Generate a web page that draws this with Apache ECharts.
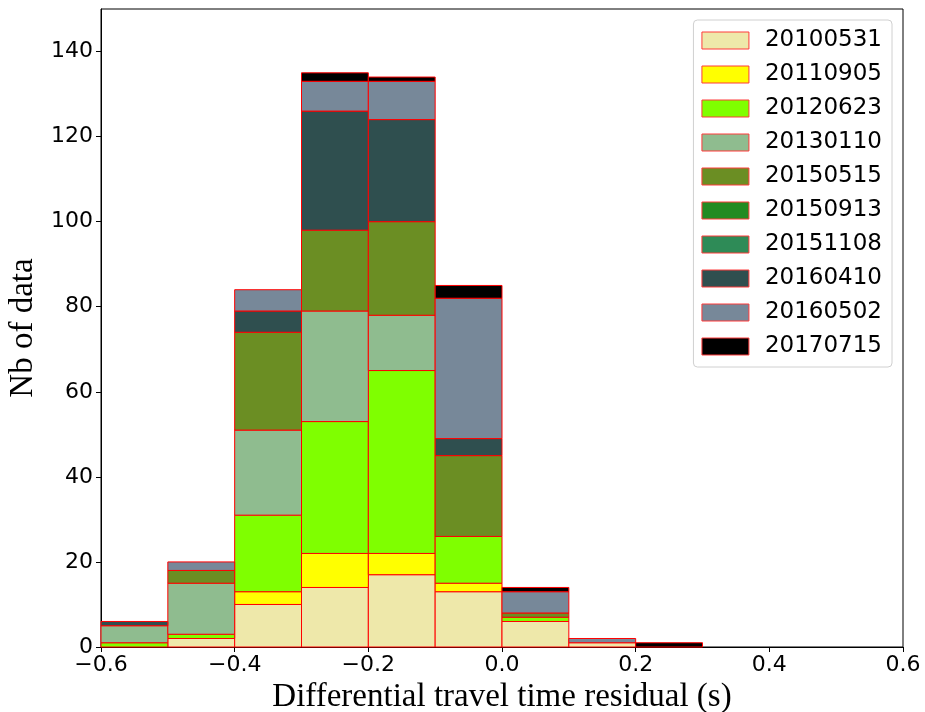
<!DOCTYPE html>
<html>
<head>
<meta charset="utf-8">
<script src="https://cdn.jsdelivr.net/npm/echarts@6/dist/echarts.min.js"></script>
<style>html,body{margin:0;padding:0;background:#fff;}#c{width:925px;height:712px;}</style>
</head>
<body>
<div id="c"></div>
<script>
// Bin edges of the histogram (x, in s)
const binEdges = [-0.6, -0.5, -0.4, -0.3, -0.2, -0.1, 0.0, 0.1, 0.2, 0.3];
// Counts per bin for each event date (stacked)
const s20100531 = [0, 2, 10, 14, 17, 13, 6, 1, 0];
const s20110905 = [0, 0, 3, 8, 5, 2, 0, 0, 0];
const s20120623 = [1, 1, 18, 31, 43, 11, 1, 0, 0];
const s20130110 = [4, 12, 20, 26, 13, 0, 0, 0, 0];
const s20150515 = [0, 3, 23, 19, 22, 19, 1, 0, 0];
const s20150913 = [0, 0, 0, 0, 0, 0, 0, 0, 0];
const s20151108 = [0, 0, 0, 0, 0, 0, 0, 0, 0];
const s20160410 = [1, 0, 5, 28, 24, 4, 0, 0, 0];
const s20160502 = [0, 2, 5, 7, 9, 33, 5, 1, 0];
const s20170715 = [0, 0, 0, 2, 1, 3, 1, 0, 1];

const seriesNames = ['20100531','20110905','20120623','20130110','20150515','20150913','20151108','20160410','20160502','20170715'];
const seriesValues = [s20100531,s20110905,s20120623,s20130110,s20150515,s20150913,s20151108,s20160410,s20160502,s20170715];
const seriesColors = ['#EEE8AA','#FFFF00','#7FFF00','#8FBC8F','#6B8E23','#228B22','#2E8B57','#2F4F4F','#778899','#000000'];

const xTicks = [-0.6, -0.4, -0.2, 0.0, 0.2, 0.4, 0.6];
const yTicks = [0, 20, 40, 60, 80, 100, 120, 140];

// build stacked rectangles
const cum = new Array(binEdges.length - 1).fill(0);
const series = seriesNames.map(function (name, si) {
  const vals = seriesValues[si];
  const data = [];
  for (let b = 0; b < vals.length; b++) {
    const base = cum[b];
    const top = base + vals[b];
    cum[b] = top;
    if (vals[b] > 0) data.push([binEdges[b], binEdges[b + 1], base, top]);
  }
  return {
    name: name,
    type: 'custom',
    itemStyle: { color: seriesColors[si], borderColor: '#ff0000', borderWidth: 1 },
    encode: { x: [0, 1], y: [2, 3] },
    data: data,
    renderItem: function (params, api) {
      const p0 = api.coord([api.value(0), api.value(2)]);
      const p1 = api.coord([api.value(1), api.value(3)]);
      return {
        type: 'rect',
        shape: { x: p0[0], y: p1[1], width: p1[0] - p0[0], height: p0[1] - p1[1] },
        style: { fill: seriesColors[si], stroke: '#ff0000', lineWidth: 1 }
      };
    }
  };
});

const chart = echarts.init(document.getElementById('c'), null, { renderer: 'canvas' });
chart.setOption({
  animation: false,
  backgroundColor: '#ffffff',
  grid: { left: 101, right: 22, top: 9, bottom: 65, show: true, borderColor: '#000', borderWidth: 1,
          containLabel: false, outerBoundsMode: 'none' },
  legend: {
    data: seriesNames,
    orient: 'vertical',
    right: 33,
    top: 20,
    padding: [9, 10, 9, 8],
    itemWidth: 47,
    itemHeight: 17,
    itemGap: 11,
    icon: 'rect',
    borderColor: '#d0d0d0',
    borderWidth: 1,
    borderRadius: 4,
    backgroundColor: 'rgba(255,255,255,0.8)',
    itemStyle: { borderColor: '#ff3b3b', borderWidth: 1 },
    textStyle: { fontFamily: 'DejaVu Sans', fontSize: 23, color: '#000', lineHeight: 22, padding: [0, 0, 0, 11] }
  },
  xAxis: {
    type: 'value',
    min: -0.6,
    max: 0.6,
    interval: 0.2,
    name: 'Differential travel time residual (s)',
    nameLocation: 'middle',
    nameGap: 25,
    nameTextStyle: { fontFamily: 'Liberation Serif', fontSize: 33, color: '#000' },
    axisLine: { show: true, onZero: false, lineStyle: { color: '#000', width: 1 } },
    axisTick: { show: true, inside: false, length: 5, lineStyle: { color: '#000' }, customValues: xTicks },
    axisLabel: {
      customValues: xTicks,
      fontFamily: 'DejaVu Sans', fontSize: 22, color: '#000', margin: 7,
      formatter: function (v) { return (Math.round(v * 10) / 10).toFixed(1).replace('-', '\u2212'); }
    },
    splitLine: { show: false }
  },
  yAxis: {
    type: 'value',
    min: 0,
    max: 150,
    interval: 10,
    name: 'Nb of data',
    nameLocation: 'middle',
    nameGap: 60,
    nameRotate: 90,
    nameTextStyle: { fontFamily: 'Liberation Serif', fontSize: 33, color: '#000' },
    axisLine: { show: true, onZero: false, lineStyle: { color: '#000', width: 1 } },
    axisTick: { show: true, inside: false, length: 5, lineStyle: { color: '#000' }, customValues: yTicks },
    axisLabel: { customValues: yTicks, fontFamily: 'DejaVu Sans', fontSize: 22, color: '#000', margin: 8 },
    splitLine: { show: false }
  },
  series: series
});
</script>
</body>
</html>
